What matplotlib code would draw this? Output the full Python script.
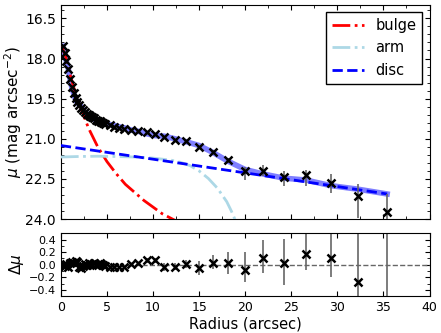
import numpy as np
import matplotlib
matplotlib.use("Agg")
from matplotlib import pyplot as plt
from matplotlib.ticker import MultipleLocator

# surface brightness profile
radius = [0.2, 0.4, 0.6, 0.8, 1.0, 1.2, 1.4, 1.6, 1.8, 2.0, 2.2, 2.4, 2.6, 2.8,
          3.0, 3.2, 3.4, 3.6, 3.8, 4.0, 4.2, 4.4, 4.6, 4.8, 5.3, 5.8, 6.3, 6.9,
          7.6, 8.4, 9.3, 10.2, 11.2, 12.4, 13.6, 15.0, 16.5, 18.1, 19.95, 21.9,
          24.2, 26.6, 29.3, 32.2, 35.4]
mu = [17.55, 17.8, 18.1, 18.4, 18.75, 19.05, 19.3, 19.48, 19.62, 19.74, 19.84,
      19.93, 20.0, 20.06, 20.11, 20.16, 20.2, 20.24, 20.28, 20.32, 20.35, 20.38,
      20.41, 20.44, 20.5, 20.54, 20.58, 20.62, 20.66, 20.7, 20.74, 20.81, 20.94,
      21.03, 21.1, 21.3, 21.48, 21.81, 22.22, 22.2, 22.44, 22.37, 22.64, 23.15,
      23.73]
mu_err_lo = [0.02] * 34 + [0.04, 0.05, 0.07, 0.1, 0.18, 0.22, 0.23, 0.21, 0.33, 0.48, 0.67]
mu_err_hi = [0.02] * 34 + [0.05, 0.06, 0.08, 0.1, 0.3, 0.2, 0.31, 0.38, 0.4, 0.79, 1.0]

# residuals (model - data)
resid = [0.0, -0.02, 0.01, -0.03, 0.03, 0.05, 0.02, 0.06, 0.04, -0.03, -0.05,
         -0.02, 0.01, 0.0, 0.02, 0.01, -0.01, 0.02, 0.0, 0.01, 0.02, 0.01, 0.0,
         -0.02, -0.03, -0.04, -0.03, -0.03, 0.01, 0.02, 0.07, 0.07, -0.04, -0.03,
         0.01, -0.05, 0.03, 0.02, -0.08, 0.11, 0.03, 0.17, 0.11, -0.27, -0.67]
resid_err_lo = [0.01] * 29 + [0.03, 0.04, 0.04, 0.06, 0.06, 0.07, 0.11, 0.1, 0.17,
                              0.2, 0.25, 0.36, 0.25, 0.3, 0.8, 1.0]
resid_err_hi = [0.01] * 29 + [0.03, 0.04, 0.04, 0.06, 0.06, 0.07, 0.11, 0.12, 0.18,
                              0.28, 0.28, 0.38, 0.4, 0.45, 0.8, 1.2]

# model components
bulge_r = [0.1, 0.5, 1.0, 1.5, 2.0, 3.0, 4.0, 5.0, 6.0, 7.0, 8.0, 9.0, 10.0, 11.0, 12.4]
bulge_mu = [17.55, 17.9, 18.6, 19.2, 19.7, 20.6, 21.3, 21.85, 22.3, 22.7, 23.0,
            23.3, 23.55, 23.8, 24.05]
arm_r = [0, 2, 4, 6, 8, 10, 12, 13, 14, 15, 16, 17, 18, 18.5, 19]
arm_mu = [21.68, 21.66, 21.65, 21.66, 21.68, 21.72, 21.8, 21.88, 22.0, 22.2,
          22.48, 22.85, 23.35, 23.7, 24.1]
disc_r = [0, 35.4]
disc_mu = [21.25, 23.06]

model_mu = np.array(mu) + np.array(resid)

plt.rcParams['font.size'] = 8
plt.rcParams['xtick.direction'] = 'in'
plt.rcParams['ytick.direction'] = 'in'
plt.rcParams['xtick.top'] = True
plt.rcParams['ytick.right'] = True

fig = plt.figure(figsize=(4.41, 3.33), dpi=100)
ax1 = fig.add_axes([0.138, 0.342, 0.836, 0.643])
ax2 = fig.add_axes([0.138, 0.111, 0.836, 0.188])

ax1.plot(radius, model_mu, color='blue', alpha=0.5, lw=4, zorder=2)
ax1.plot(bulge_r, bulge_mu, 'r-.', lw=2, label='bulge', zorder=3)
ax1.plot(arm_r, arm_mu, '-.', color='lightblue', lw=2, label='arm', zorder=3)
ax1.plot(disc_r, disc_mu, 'b--', lw=2, label='disc', zorder=3)
ax1.errorbar(radius, mu, yerr=[mu_err_lo, mu_err_hi], fmt='x', color='black',
             ecolor='0.4', ms=6, mew=1.8, elinewidth=1.2, zorder=4)

ax1.set_xlim(0, 40)
ax1.set_ylim(24, 16)
ax1.yaxis.set_major_locator(MultipleLocator(1.5))
ax1.yaxis.set_minor_locator(MultipleLocator(0.3))
ax1.xaxis.set_major_locator(MultipleLocator(5))
ax1.xaxis.set_minor_locator(MultipleLocator(2.5))
ax1.set_xticklabels([])
ax1.set_yticks([16.5, 18.0, 19.5, 21.0, 22.5, 24.0])
ax1.set_yticklabels(['16.5', '18.0', '19.5', '21.0', '22.5', '24.0'], fontsize=10)
ax1.set_ylabel(r'$\mu$ (mag arcsec$^{-2}$)', fontsize=11, labelpad=1)
leg = ax1.legend(loc='upper right', fontsize=10.5, fancybox=False, edgecolor='black',
                 framealpha=1, handlelength=2.2)
leg.get_frame().set_linewidth(1)

ax2.axhline(0, color='0.4', ls='--', lw=1)
ax2.errorbar(radius, resid, yerr=[resid_err_lo, resid_err_hi], fmt='x', color='black',
             ecolor='0.4', ms=6, mew=1.8, elinewidth=1.2)
ax2.set_xlim(0, 40)
ax2.set_ylim(-0.5, 0.5)
ax2.yaxis.set_major_locator(MultipleLocator(0.2))
ax2.yaxis.set_minor_locator(MultipleLocator(0.1))
ax2.xaxis.set_major_locator(MultipleLocator(5))
ax2.set_yticks([-0.4, -0.2, 0.0, 0.2, 0.4])
ax2.tick_params(axis='x', labelsize=9)
ax2.tick_params(axis='y', labelsize=8)
ax2.set_ylabel(r'$\Delta\mu$', fontsize=11, labelpad=2)
ax2.set_xlabel('Radius (arcsec)', fontsize=10.5, labelpad=2)

fig.savefig('out.png', dpi=100)
